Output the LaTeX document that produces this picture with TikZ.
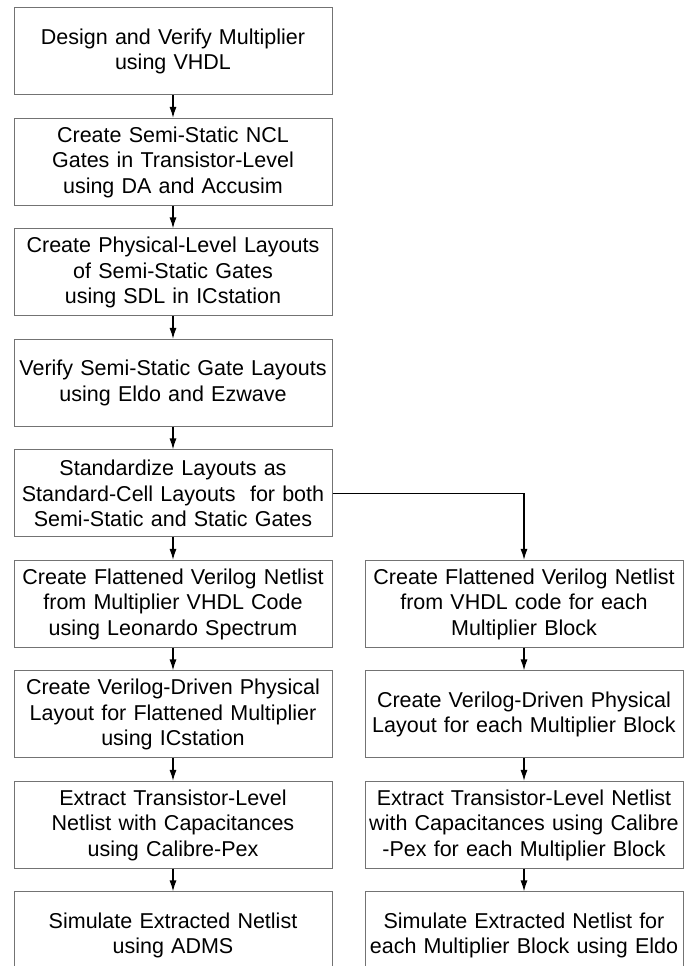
\documentclass[tikz,border=0pt]{standalone}
\usepackage{fontspec}
\setmainfont{Liberation Sans}
\usetikzlibrary{positioning,arrows.meta}

\begin{document}
\begin{tikzpicture}[x=1pt, y=1pt, >={Latex[length=11pt,width=7pt]},
  every node/.style={font=\fontsize{21.5}{25.5}\selectfont},
  stepbox/.style={draw=black!55, line width=1pt, minimum width=318pt, minimum height=87pt, text width=312pt, align=center, inner sep=0pt},
  flow/.style={->, line width=1.4pt},
  node distance=22.5pt]
\useasboundingbox (0,0) rectangle (686,966);
\node[stepbox] (design) at (173,914.5) {Design and Verify Multiplier\\using VHDL};
\node[stepbox, below=of design] (gates) {Create Semi-Static NCL\\Gates in Transistor-Level\\using DA and Accusim};
\node[stepbox, below=of gates] (phys) {Create Physical-Level Layouts\\of Semi-Static Gates\\using SDL in ICstation};
\node[stepbox, below=of phys] (verify) {Verify Semi-Static Gate Layouts\\using Eldo and Ezwave};
\node[stepbox, below=of verify] (std) {Standardize Layouts as\\Standard-Cell Layouts\ \ for both\\Semi-Static and Static Gates};
% flattened multiplier
\node[stepbox, below=of std] (netA) {Create Flattened Verilog Netlist\\from Multiplier VHDL Code\\using Leonardo Spectrum};
\node[stepbox, below=of netA] (layA) {Create Verilog-Driven Physical\\Layout for Flattened Multiplier\\using ICstation};
\node[stepbox, below=of layA] (pexA) {Extract Transistor-Level\\Netlist with Capacitances\\using Calibre-Pex};
\node[stepbox, below=of pexA] (simA) {Simulate Extracted Netlist\\using ADMS};
% each multiplier block
\node[stepbox, right=32pt of netA] (netB) {Create Flattened Verilog Netlist\\from VHDL code for each\\Multiplier Block};
\node[stepbox, below=of netB] (layB) {Create Verilog-Driven Physical\\Layout for each Multiplier Block};
\node[stepbox, below=of layB] (pexB) {Extract Transistor-Level Netlist\\with Capacitances using Calibre\\-Pex for each Multiplier Block};
\node[stepbox, below=of pexB] (simB) {Simulate Extracted Netlist for\\each Multiplier Block using Eldo};
\draw[flow] (design) -- (gates);
\draw[flow] (gates) -- (phys);
\draw[flow] (phys) -- (verify);
\draw[flow] (verify) -- (std);
\draw[flow] (std) -- (netA);
\draw[flow] (netA) -- (layA);
\draw[flow] (layA) -- (pexA);
\draw[flow] (pexA) -- (simA);
\draw[flow] (std.east) -| (netB.north);
\draw[flow] (netB) -- (layB);
\draw[flow] (layB) -- (pexB);
\draw[flow] (pexB) -- (simB);
\end{tikzpicture}
\end{document}
